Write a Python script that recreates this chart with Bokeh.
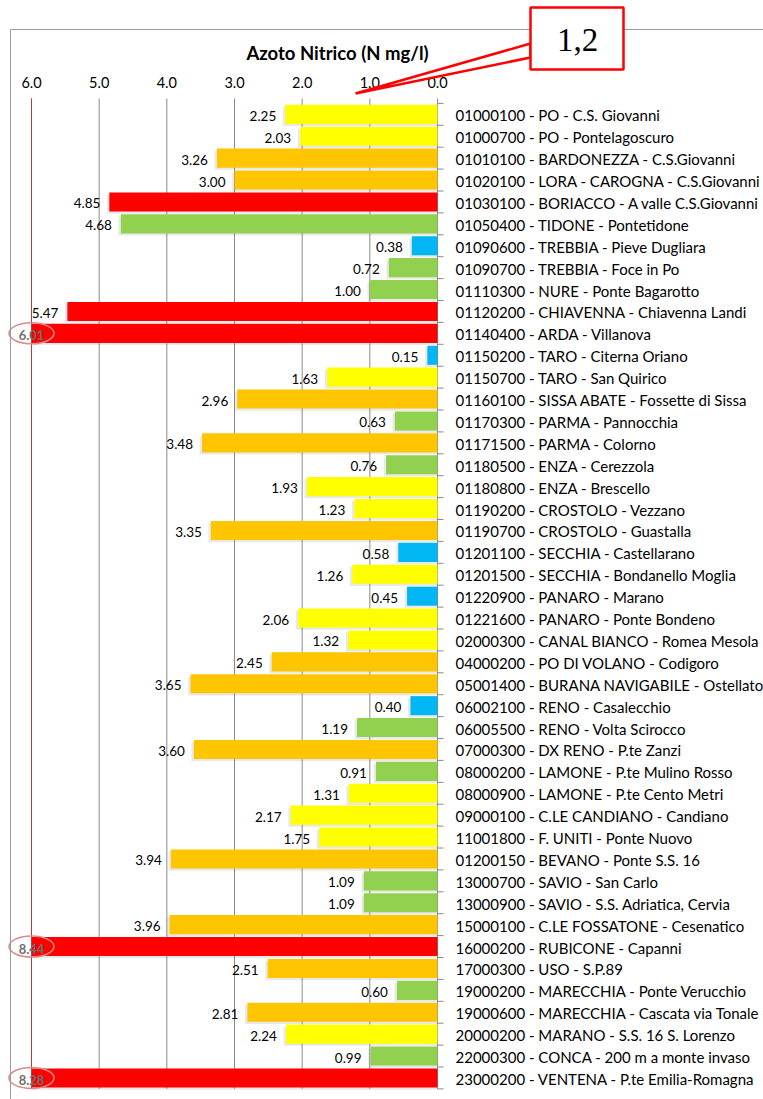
import numpy as np
from bokeh.plotting import figure
from bokeh.models import (Range1d, ColumnDataSource, Label, PolyAnnotation, BoxAnnotation)
from bokeh.core.properties import value
from bokeh.embed import file_html
from bokeh.resources import INLINE

# ---------------- data ----------------
stations = [
    "01000100 - PO - C.S. Giovanni",
    "01000700 - PO - Pontelagoscuro",
    "01010100 - BARDONEZZA - C.S.Giovanni",
    "01020100 - LORA - CAROGNA - C.S.Giovanni",
    "01030100 - BORIACCO - A valle C.S.Giovanni",
    "01050400 - TIDONE - Pontetidone",
    "01090600 - TREBBIA - Pieve Dugliara",
    "01090700 - TREBBIA - Foce in Po",
    "01110300 - NURE - Ponte Bagarotto",
    "01120200 - CHIAVENNA - Chiavenna Landi",
    "01140400 - ARDA - Villanova",
    "01150200 - TARO - Citerna Oriano",
    "01150700 - TARO - San Quirico",
    "01160100 - SISSA ABATE - Fossette di Sissa",
    "01170300 - PARMA - Pannocchia",
    "01171500 - PARMA - Colorno",
    "01180500 - ENZA - Cerezzola",
    "01180800 - ENZA - Brescello",
    "01190200 - CROSTOLO - Vezzano",
    "01190700 - CROSTOLO - Guastalla",
    "01201100 - SECCHIA - Castellarano",
    "01201500 - SECCHIA - Bondanello Moglia",
    "01220900 - PANARO - Marano",
    "01221600 - PANARO - Ponte Bondeno",
    "02000300 - CANAL BIANCO - Romea Mesola",
    "04000200 - PO DI VOLANO - Codigoro",
    "05001400 - BURANA NAVIGABILE - Ostellato",
    "06002100 - RENO - Casalecchio",
    "06005500 - RENO - Volta Scirocco",
    "07000300 - DX RENO - P.te Zanzi",
    "08000200 - LAMONE - P.te Mulino Rosso",
    "08000900 - LAMONE - P.te Cento Metri",
    "09000100 - C.LE CANDIANO - Candiano",
    "11001800 - F. UNITI - Ponte Nuovo",
    "01200150 - BEVANO - Ponte S.S. 16",
    "13000700 - SAVIO - San Carlo",
    "13000900 - SAVIO - S.S. Adriatica, Cervia",
    "15000100 - C.LE FOSSATONE - Cesenatico",
    "16000200 - RUBICONE - Capanni",
    "17000300 - USO - S.P.89",
    "19000200 - MARECCHIA - Ponte Verucchio",
    "19000600 - MARECCHIA - Cascata via Tonale",
    "20000200 - MARANO - S.S. 16 S. Lorenzo",
    "22000300 - CONCA - 200 m a monte invaso",
    "23000200 - VENTENA - P.te Emilia-Romagna",
]
values = [2.25, 2.03, 3.26, 3.00, 4.85, 4.68, 0.38, 0.72, 1.00, 5.47,
          6.01, 0.15, 1.63, 2.96, 0.63, 3.48, 0.76, 1.93, 1.23, 3.35,
          0.58, 1.26, 0.45, 2.06, 1.32, 2.45, 3.65, 0.40, 1.19, 3.60,
          0.91, 1.31, 2.17, 1.75, 3.94, 1.09, 1.09, 3.96, 8.44, 2.51,
          0.60, 2.81, 2.24, 0.99, 8.28]
classes = ["Y", "Y", "O", "O", "R", "G", "B", "G", "G", "R",
           "R", "B", "Y", "O", "G", "O", "G", "Y", "Y", "O",
           "B", "Y", "B", "Y", "Y", "O", "O", "B", "G", "O",
           "G", "Y", "Y", "Y", "O", "G", "G", "O", "R", "O",
           "G", "O", "Y", "G", "R"]
palette = {"Y": "#FFFF00", "O": "#FFC600", "R": "#FF0000", "G": "#92D050", "B": "#00B7F3"}
x_ticks = [6, 5, 4, 3, 2, 1, 0]
x_tick_labels = ["6.0", "5.0", "4.0", "3.0", "2.0", "1.0", "0.0"]
AXIS_MAX = 6.0
title_text = "Azoto Nitrico (N mg/l)"
callout_text = "1,2"

FONT = "Lato"
GRID = "#8a8a8a"

# ---------------- layout (page pixels of the reference) ----------------
W, H = 763, 1099
n = len(stations)
rows = np.arange(n)
X0_PX, X6_PX = 437.0, 31.0        # screen x of value 0 and value 6
PX = (X0_PX - X6_PX) / AXIS_MAX   # px per unit
TOP_PX, ROW = 102.9, 21.9         # first band top, band height
GRID_TOP_PX = 98.0

def dx(px):
    return (X0_PX - px) / PX

def dy(py):
    return (py - TOP_PX) / ROW - 0.5

p = figure(width=W, height=H, output_backend="svg", toolbar_location=None,
           x_range=Range1d(dx(0), dx(W)), y_range=Range1d(dy(H), dy(0)),
           x_axis_location=None, y_axis_location=None,
           min_border_left=0, min_border_right=0, min_border_top=0, min_border_bottom=0)
p.outline_line_color = None
p.background_fill_color = "white"
p.border_fill_color = "white"
p.xgrid.grid_line_color = None
p.ygrid.grid_line_color = None

band_top, band_bot = -0.5, n - 0.5
grid_top = dy(GRID_TOP_PX)

# outer chart border
p.add_layout(BoxAnnotation(left=dx(10), right=dx(W + 50), top=dy(29), bottom=dy(H + 50),
                           fill_color=None, fill_alpha=0, line_color="#9a9a9a",
                           line_alpha=1, line_width=1))

# vertical gridlines
p.segment(x0=x_ticks, x1=x_ticks, y0=[grid_top] * len(x_ticks), y1=[band_bot] * len(x_ticks),
          line_color=GRID, line_width=1)
# category-axis tick marks at band boundaries
bounds = np.arange(n + 1) - 0.5
p.segment(x0=np.zeros(n + 1), x1=np.full(n + 1, -6 / PX), y0=bounds, y1=bounds,
          line_color=GRID, line_width=1)

# top value-axis labels
p.text(x=x_ticks, y=[grid_top] * len(x_ticks), text=x_tick_labels, y_offset=-16,
       text_align="center", text_baseline="middle", text_font=value(FONT),
       text_font_size="14.5px", text_color="#000000")

vals = np.array(values)
bar_end = np.minimum(vals, AXIS_MAX)
src = ColumnDataSource(dict(y=rows, bar=bar_end, color=[palette[c] for c in classes]))

# soft shadow
shadow = ColumnDataSource(dict(y=rows + 0.1, bar=np.minimum(bar_end + 0.035, AXIS_MAX)))
p.hbar(y="y", left=0, right="bar", height=0.87, fill_color="#7f7f7f", fill_alpha=0.17,
       line_color=None, source=shadow)
p.hbar(y="y", left=0, right="bar", height=0.87, fill_color="color", line_color=None, source=src)

# left limit line of the value axis
p.segment(x0=[AXIS_MAX], x1=[AXIS_MAX], y0=[grid_top], y1=[band_bot], line_color="#b83a3a", line_width=1)

# station labels
p.text(x=np.zeros(n), y=rows, text=stations, x_offset=18, y_offset=1,
       text_align="left", text_baseline="middle", text_font=value(FONT),
       text_font_size="15px", text_color="#000000")

inside = vals <= AXIS_MAX
src_in = ColumnDataSource(dict(y=rows[inside], x=bar_end[inside],
                               lab=[f"{v:.2f}" for v in vals[inside]]))
src_out = ColumnDataSource(dict(y=rows[~inside], x=bar_end[~inside],
                                lab=[f"{v:.2f}" for v in vals[~inside]]))
p.text(x="x", y="y", text="lab", source=src_in, x_offset=-9, y_offset=1.5,
       text_align="right", text_baseline="middle", text_font=value(FONT),
       text_font_size="13.5px", text_color="#000000")
p.ellipse(x="x", y="y", width=45, height=21, width_units="screen", height_units="screen",
          fill_color=None, line_color="#d98a8a", line_width=1.5, source=src_out)
p.text(x="x", y="y", text="lab", source=src_out, y_offset=2,
       text_align="center", text_baseline="middle", text_font=value(FONT),
       text_font_size="13px", text_font_style="bold", text_color="#6f6f6f")

# title
p.add_layout(Label(x=dx(337), y=dy(52), text=title_text, text_align="center",
                   text_baseline="middle", text_font=FONT, text_font_size="18.5px",
                   text_font_style="bold", text_color="#000000"))

# callout
p.add_layout(PolyAnnotation(xs=[dx(530), dx(355), dx(530)], ys=[dy(43), dy(93), dy(57)],
                            fill_color="white", fill_alpha=1, line_color="#FF0000",
                            line_alpha=1, line_width=2.5))
p.add_layout(BoxAnnotation(left=dx(530), right=dx(623), top=dy(7), bottom=dy(69),
                           fill_color="white", fill_alpha=1, line_color="#FF0000",
                           line_alpha=1, line_width=2.5))
p.add_layout(Label(x=dx(577), y=dy(39), text=callout_text, text_align="center",
                   text_baseline="middle", text_font="Liberation Serif", text_font_size="33px",
                   text_color="#000000"))

open("out.html", "w").write(file_html(p, INLINE))
